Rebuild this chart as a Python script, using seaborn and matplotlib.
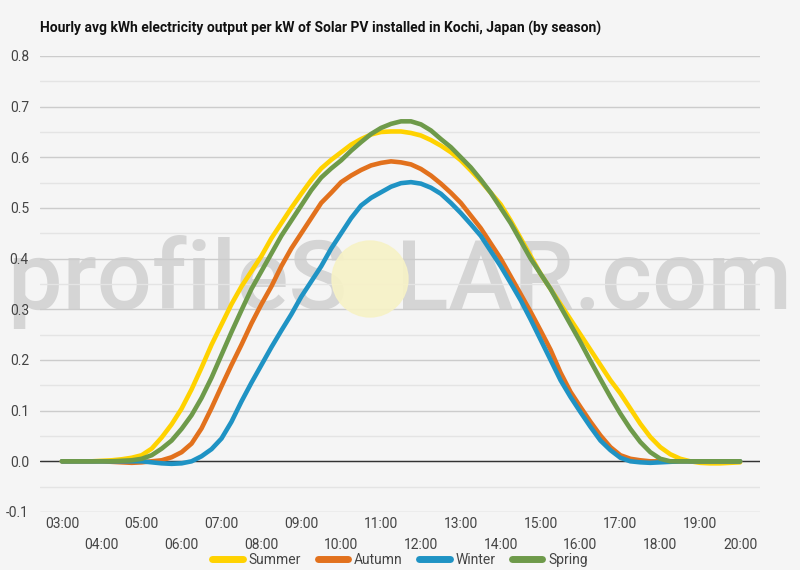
import numpy as np
import pandas as pd
import seaborn as sns
import matplotlib.pyplot as plt
from matplotlib.patches import Ellipse
from matplotlib.ticker import MultipleLocator, FuncFormatter

# quarter-hourly readings, 03:00 .. 20:00
times = [f"{h:02d}:{m:02d}" for h in range(3, 21) for m in (0, 15, 30, 45)][:-3]

summer = [0.0, 0.0, 0.0, 0.0,
          0.001, 0.002, 0.004, 0.007,
          0.012, 0.025, 0.047, 0.073,
          0.104, 0.142, 0.185, 0.23,
          0.27, 0.31, 0.345, 0.375,
          0.405, 0.44, 0.47, 0.50,
          0.528, 0.555, 0.578, 0.595,
          0.61, 0.625, 0.636, 0.645,
          0.65, 0.651, 0.651, 0.648,
          0.643, 0.634, 0.623, 0.61,
          0.594, 0.574, 0.553, 0.53,
          0.507, 0.475, 0.44, 0.405,
          0.37, 0.34, 0.31, 0.28,
          0.25, 0.22, 0.19, 0.16,
          0.134, 0.104, 0.074, 0.048,
          0.028, 0.014, 0.005, 0.0,
          -0.003, -0.004, -0.004, -0.003,
          -0.002]
autumn = [0.0, 0.0, 0.0, 0.0,
          0.0, -0.001, -0.002, -0.003,
          -0.002, 0.0, 0.002, 0.008,
          0.018, 0.035, 0.065, 0.105,
          0.148, 0.19, 0.23, 0.272,
          0.31, 0.345, 0.385, 0.42,
          0.45, 0.48, 0.51, 0.53,
          0.551, 0.564, 0.575, 0.584,
          0.589, 0.592, 0.59, 0.586,
          0.577, 0.564, 0.548, 0.53,
          0.51, 0.485, 0.46, 0.43,
          0.40, 0.365, 0.33, 0.295,
          0.258, 0.22, 0.175, 0.137,
          0.107, 0.078, 0.051, 0.028,
          0.012, 0.005, 0.002, 0.0,
          0.0, 0.0, 0.0, 0.0,
          0.0, 0.0, 0.0, 0.0,
          0.0]
winter = [0.0, 0.0, 0.0, 0.0,
          0.0, 0.0, 0.0, 0.0,
          0.0, -0.002, -0.004, -0.005,
          -0.004, 0.0, 0.01, 0.024,
          0.045, 0.078, 0.118, 0.155,
          0.19, 0.225, 0.258, 0.29,
          0.325, 0.355, 0.385, 0.42,
          0.45, 0.48, 0.505, 0.52,
          0.531, 0.542, 0.549, 0.551,
          0.548, 0.54, 0.528, 0.51,
          0.49, 0.468, 0.445, 0.415,
          0.385, 0.352, 0.318, 0.28,
          0.24, 0.20, 0.16, 0.127,
          0.097, 0.068, 0.041, 0.022,
          0.007, 0.0, -0.002, -0.003,
          -0.002, -0.001, 0.0, 0.0,
          0.0, 0.0, 0.0, 0.0,
          0.0]
spring = [0.0, 0.0, 0.0, 0.0,
          0.0, 0.0, 0.001, 0.002,
          0.005, 0.012, 0.025, 0.041,
          0.064, 0.091, 0.125, 0.165,
          0.21, 0.255, 0.298, 0.34,
          0.375, 0.41, 0.445, 0.475,
          0.505, 0.535, 0.56, 0.578,
          0.594, 0.613, 0.63, 0.646,
          0.658, 0.666, 0.671, 0.671,
          0.665, 0.653, 0.636, 0.62,
          0.60, 0.58, 0.556, 0.53,
          0.50, 0.47, 0.435, 0.40,
          0.37, 0.34, 0.305, 0.27,
          0.235, 0.198, 0.162, 0.127,
          0.094, 0.064, 0.038, 0.018,
          0.005, 0.0, 0.0, 0.0,
          0.0, 0.0, 0.0, 0.0,
          0.0]

seasons = ["Summer", "Autumn", "Winter", "Spring"]
colors = ["#ffd200", "#e2711d", "#1f93c4", "#6e9a4a"]
hour_labels = [f"{h:02d}:00" for h in range(3, 21)]

hours = [int(t[:2]) + int(t[3:]) / 60 for t in times]
df = pd.DataFrame({"hour": hours * 4,
                   "kwh": summer + autumn + winter + spring,
                   "season": np.repeat(seasons, len(times))})

sns.set_style("white")
plt.rcParams["font.family"] = ["Roboto", "DejaVu Sans"]
bg = "#f5f5f5"

fig = plt.figure(figsize=(8, 5.7), dpi=100, facecolor=bg)
ax = fig.add_axes([0.05, 0.1018, 0.90, 0.80])
ax.set_facecolor("none")

# watermark
ax.text(0.5, 0.505, "profileS  LAR.com", transform=fig.transFigure, ha="center", va="center",
        fontsize=70, fontweight="medium", color="#c4c4c4", alpha=0.65, zorder=0.3, clip_on=False)
fig.patches.append(Ellipse((370 / 800, 1 - 279 / 570), 76 / 800, 76 / 570,
                           transform=fig.transFigure, color="#f7f2c6", alpha=0.9, zorder=0))

sns.lineplot(data=df, x="hour", y="kwh", hue="season", hue_order=seasons,
             palette=colors, linewidth=3.3, ax=ax, legend=False, zorder=3,
             solid_capstyle="round", solid_joinstyle="round")

ax.set_xlim(2.45, 20.5)
ax.set_ylim(-0.1, 0.8)
ax.yaxis.set_major_locator(MultipleLocator(0.1))
ax.yaxis.set_minor_locator(MultipleLocator(0.05))
ax.yaxis.set_major_formatter(FuncFormatter(lambda v, p: f"{v:.1f}".replace("-0.0", "0.0")))
ax.grid(which="major", axis="y", color="#cccccc", linewidth=1)
ax.grid(which="minor", axis="y", color="#e4e4e4", linewidth=1)
ax.set_axisbelow(True)
ax.axhline(0, color="#333333", linewidth=1, zorder=2)
for s in ax.spines.values():
    s.set_visible(False)

ax.set_xticks(range(3, 21, 2))
ax.set_xticklabels(hour_labels[0::2])
ax.set_xticks(range(4, 21, 2), minor=True)
ax.set_xticklabels(hour_labels[1::2], minor=True)
ax.tick_params(axis="x", which="major", length=0, pad=3.5, labelsize=10, labelcolor="#444444")
ax.tick_params(axis="x", which="minor", length=0, pad=19, labelsize=10, labelcolor="#444444")
ax.tick_params(axis="y", which="both", length=0, pad=8, labelsize=10, labelcolor="#444444")
ax.set_xlabel("")
ax.set_ylabel("")

fig.text(0.05, 1 - 28 / 570, "Hourly avg kWh electricity output per kW of Solar PV installed in Kochi, Japan (by season)",
         fontsize=10, weight="bold", color="#111111", va="center", ha="left")

handles = [plt.Line2D([], [], color=c, linewidth=5) for c in colors]
fig.legend(handles, seasons, loc="center", bbox_to_anchor=(0.5, 1 - 560 / 570), ncol=4,
           frameon=False, fontsize=10, handlelength=2.2, columnspacing=1.2, handletextpad=0.4,
           labelcolor="#444444", borderpad=0.1)

fig.savefig("out.png", dpi=100, facecolor=bg)
